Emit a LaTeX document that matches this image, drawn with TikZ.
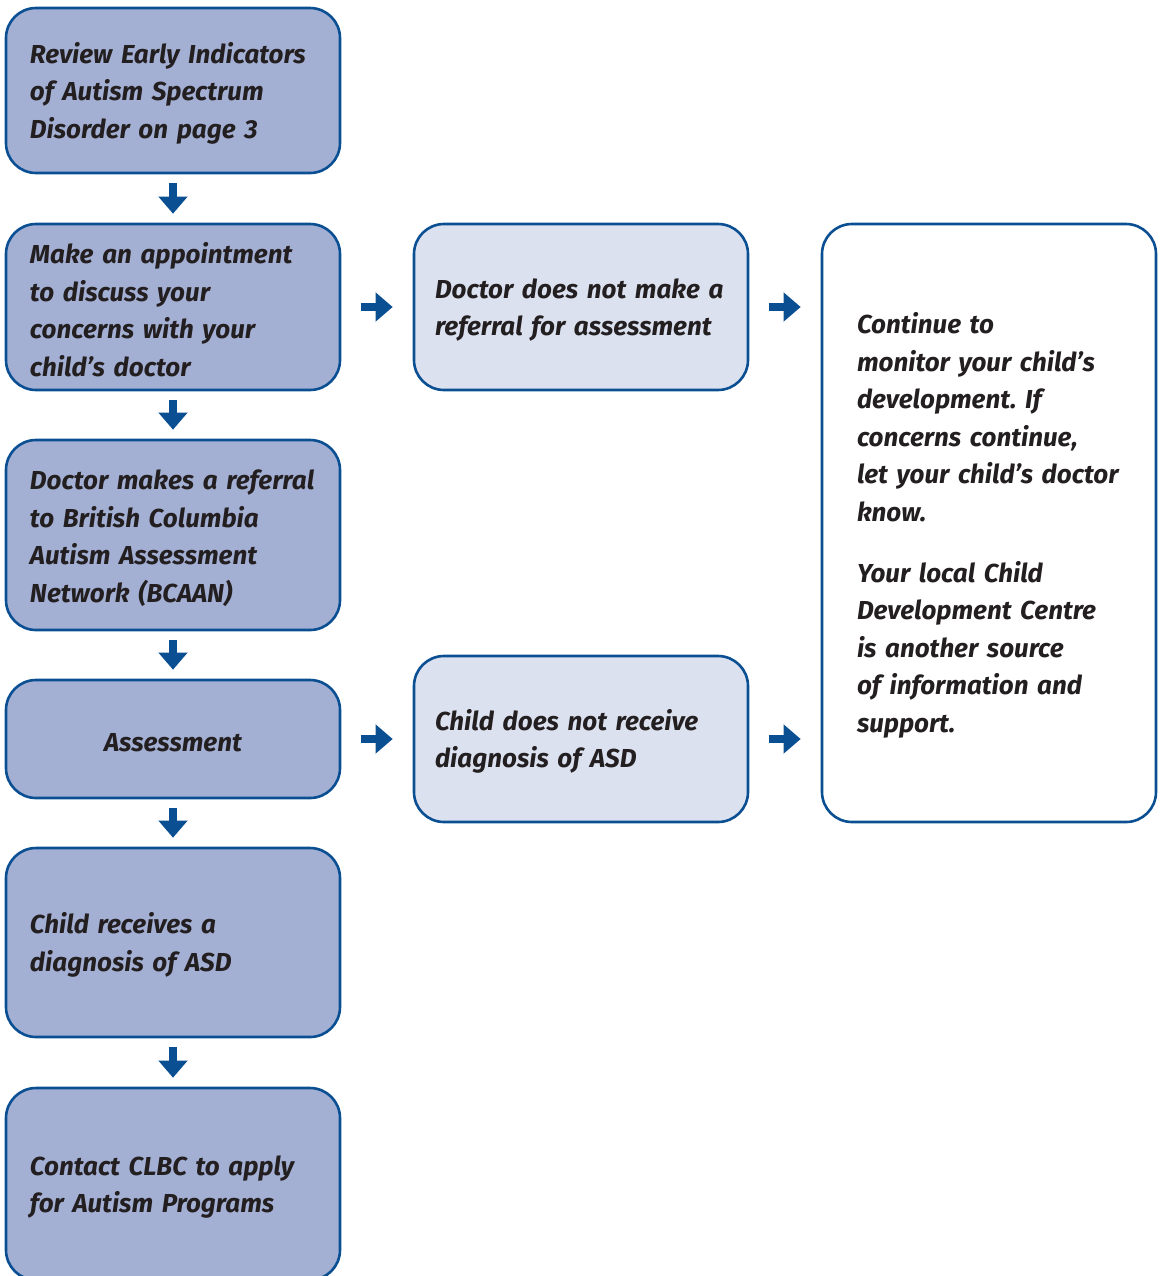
\documentclass[tikz,border=0pt]{standalone}
\usepackage{fontspec}
\newfontfamily\boxfont{Fira Sans}[WordSpace=0.8]
\usetikzlibrary{arrows.meta}
\definecolor{bcblue}{HTML}{0B4F93}
\definecolor{boxfill}{HTML}{A3AFD3}
\definecolor{palefill}{HTML}{DCE1EF}
\definecolor{inktext}{HTML}{231F20}
\tikzset{
  stepbox/.style={draw=bcblue, line width=1.3pt, rounded corners=15pt, fill=boxfill,
    minimum width=167pt, text width=143pt, inner xsep=12pt, align=left,
    font=\boxfont\fontsize{13}{18.75}\selectfont\bfseries\itshape\frenchspacing, text=inktext,
    execute at begin node={\leavevmode\rule{0pt}{13pt}}},
  sidebox/.style={stepbox, fill=palefill, text width=146pt, inner xsep=10.5pt},
  notebox/.style={stepbox, fill=white, text width=132pt, inner xsep=17.5pt},
  downarrow/.style={draw=bcblue, line width=4pt, -{Triangle[width=14pt,length=8.5pt]},
    shorten <=4.5pt, shorten >=4.5pt},
  rightarrow/.style={downarrow, shorten <=10pt, shorten >=10pt}
}
\begin{document}
\begin{tikzpicture}[x=0.5pt, y=-0.5pt]
	\useasboundingbox (0,0) rectangle (1161,1276);
	% left column
	\node[stepbox, minimum height=82.5pt] (review) at (173,90.5) {Review Early Indicators\\ of Autism Spectrum\\ Disorder on page 3};
	\node[stepbox, minimum height=83pt] (appoint) at (173,307) {Make an appointment\\ to discuss your\\ concerns with your\\ child’s doctor};
	\node[stepbox, minimum height=95pt] (referral) at (173,535) {Doctor makes a referral\\ to British Columbia\\ Autism Assessment\\ Network (BCAAN)};
	\node[stepbox, minimum height=59pt, align=center] (assess) at (173,739) {Assessment};
	\node[stepbox, minimum height=94.5pt] (diagnosis) at (173,942.5) {Child receives a\\ diagnosis of ASD};
	\node[stepbox, minimum height=96pt] (clbc) at (173,1184) {Contact CLBC to apply\\ for Autism Programs};
	% middle column
	\node[sidebox, minimum height=83pt] (noref) at (581,307) {Doctor does not make a\\ referral for assessment};
	\node[sidebox, minimum height=83pt] (nodiag) at (581,739) {Child does not receive\\ diagnosis of ASD};
	% right column
	\node[notebox, minimum height=299pt] (monitor) at (989,523) {Continue to\\ monitor your child’s\\ development. If\\ concerns continue,\\ let your child’s doctor\\ know.\\[11.75pt] Your local Child\\ Development Centre\\ is another source\\ of information and\\ support.};
	% arrows
	\draw[downarrow] (review) -- (appoint);
	\draw[downarrow] (appoint) -- (referral);
	\draw[downarrow] (referral) -- (assess);
	\draw[downarrow] (assess) -- (diagnosis);
	\draw[downarrow] (diagnosis) -- (clbc);
	\draw[rightarrow] (appoint) -- (noref);
	\draw[rightarrow] (noref.east) -- (noref.east -| monitor.west);
	\draw[rightarrow] (assess.east) -- (nodiag.west);
	\draw[rightarrow] (nodiag.east) -- (nodiag.east -| monitor.west);
\end{tikzpicture}
\end{document}
